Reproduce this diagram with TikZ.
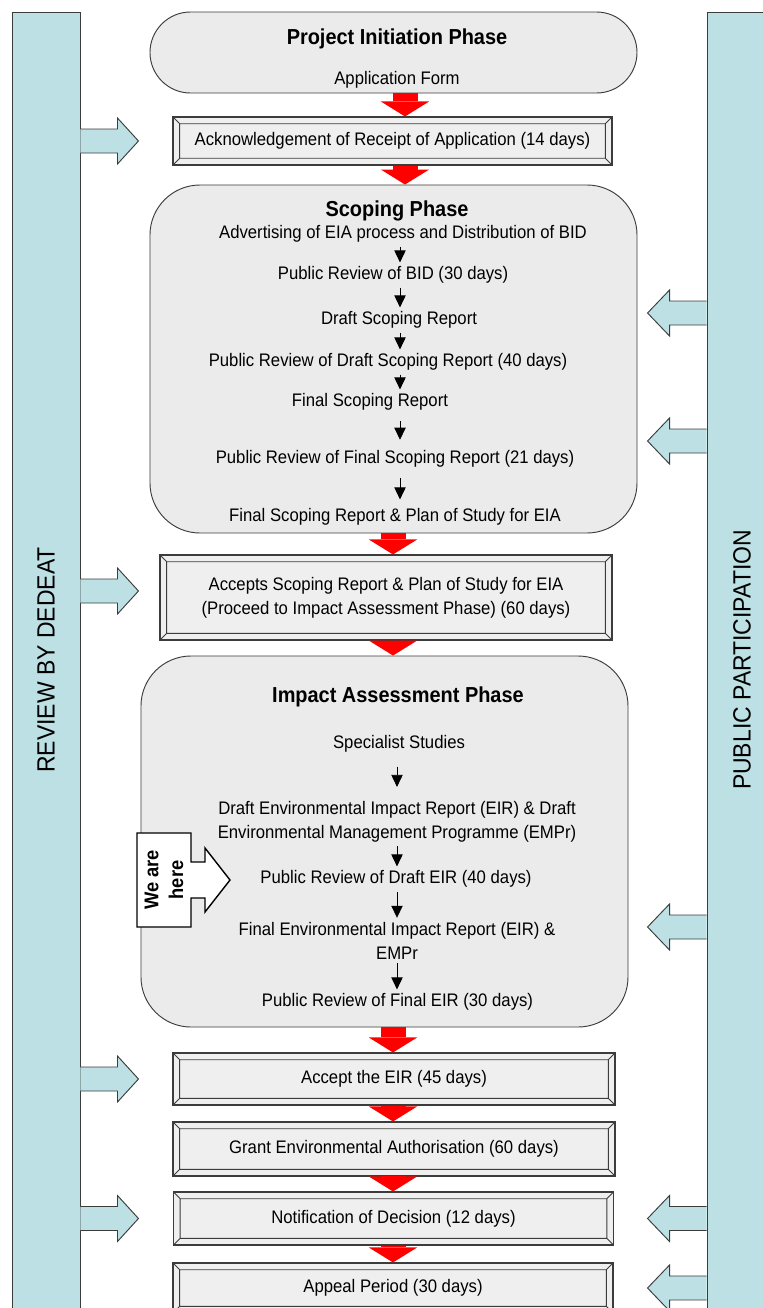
\documentclass[tikz,border=0pt]{standalone}
\usepackage{fontspec}
\setmainfont{Liberation Sans}[FakeStretch=0.92]
\usetikzlibrary{arrows.meta, positioning, calc}

\definecolor{barblue}{RGB}{188,224,227}
\definecolor{phasegray}{RGB}{235,235,235}
\definecolor{boxgray}{RGB}{239,239,239}
\definecolor{edgegray}{RGB}{60,60,60}

\newcommand{\stepfont}{\fontsize{15.5}{20.5}\selectfont}
\newcommand{\phasefont}{\bfseries\fontsize{18.5}{22}\selectfont}
\newcommand{\barfont}{\fontsize{21.3}{24}\selectfont}
\newcommand{\herefont}{\bfseries\fontsize{17}{21}\selectfont}

\newcommand{\feedright}[1]{\filldraw[sidearrow] (#1) ++(0,-12) -- ++(37,0) -- ++(0,-11) -- ++(21,23) -- ++(-21,23) -- ++(0,-11) -- ++(-37,0);}
\newcommand{\feedleft}[1]{\filldraw[sidearrow] (#1) ++(0,-12) -- ++(-37,0) -- ++(0,-11) -- ++(-22,23) -- ++(22,23) -- ++(0,-11) -- ++(37,0);}

\begin{document}
\begin{tikzpicture}[x=0.03cm, y=-0.03cm,
    phase/.style={draw=edgegray, fill=phasegray, line width=0.8pt},
    bevelbox/.style={draw=edgegray, fill=boxgray, line width=0.9pt, align=center, font=\stepfont,
      path picture={
        \draw[edgegray, line width=0.7pt]
          ([shift={(0.2cm,-0.2cm)}]path picture bounding box.north west) rectangle ([shift={(-0.2cm,0.2cm)}]path picture bounding box.south east)
          (path picture bounding box.north west) -- ++(0.2cm,-0.2cm)
          (path picture bounding box.north east) -- ++(-0.2cm,-0.2cm)
          (path picture bounding box.south west) -- ++(0.2cm,0.2cm)
          (path picture bounding box.south east) -- ++(-0.2cm,0.2cm);
      }},
    item/.style={align=center, font=\stepfont, yshift=-0.06cm},
    heading/.style={font=\phasefont, yshift=-0.06cm},
    sidebar/.style={draw=edgegray, fill=barblue, line width=0.8pt},
    sidelabel/.style={rotate=90, font=\barfont},
    redflow/.style={red, line width=0.75cm, -{Triangle[width=1.45cm, length=0.45cm, line width=0pt]}},
    flowstep/.style={black, line width=0.6pt, -{Triangle[width=0.34cm, length=0.36cm]}},
    sidearrow/.style={draw=edgegray, fill=barblue, line width=0.8pt, line join=miter}]

  \useasboundingbox (0,0) rectangle (763,1308);
  \clip (0,0) rectangle (763,1308);

  \node[sidebar, minimum width=2.04cm, minimum height=39.6cm] (dedeat) at (46,672) {};
  \node[sidebar, minimum width=2.04cm, minimum height=39.6cm] (publicpp) at (741,672) {};
  \node[sidelabel] (dedeatlabel) at (46,660) {REVIEW BY DEDEAT};
  \node[sidelabel] (pplabel) at (742,660) {PUBLIC PARTICIPATION};

  \node[phase, rounded corners=1.215cm, minimum width=14.61cm, minimum height=2.43cm] (init) at (393.5,52.5) {};
  \node[phase, rounded corners=1.5cm, minimum width=14.61cm, minimum height=10.44cm] (scoping) at (393.5,359) {};
  \node[phase, rounded corners=1.5cm, minimum width=14.61cm, minimum height=11.13cm] (impact) at (384.5,841.5) {};

  \node[bevelbox, minimum width=13.17cm, minimum height=1.44cm] (ack) at (392.5,141) {Acknowledgement of Receipt of Application (14 days)};
  \node[bevelbox, minimum width=13.56cm, minimum height=2.55cm] (accepts) at (386,597.5) {Accepts Scoping Report \& Plan of Study for EIA\\(Proceed to Impact Assessment Phase) (60 days)};
  \node[bevelbox, minimum width=13.26cm, minimum height=1.56cm] (accepteir) at (394,1079) {Accept the EIR (45 days)};
  \node[bevelbox, minimum width=13.26cm, minimum height=1.62cm] (grant) at (394,1149) {Grant Environmental Authorisation (60 days)};
  \node[bevelbox, minimum width=13.2cm, minimum height=1.59cm] (notif) at (393.5,1218.5) {Notification of Decision (12 days)};
  \node[bevelbox, minimum width=13.2cm, minimum height=1.5cm] (appeal) at (393,1288) {Appeal Period (30 days)};

  \node[heading] (inittitle) at (397,37) {Project Initiation Phase};
  \node[item] (form) at (397,78) {Application Form};

  \node[heading] (scopetitle) at (397,209) {Scoping Phase};
  \node[item] (s1) at (403,232) {Advertising of EIA process and Distribution of BID};
  \node[item] (s2) at (393,273) {Public Review of BID (30 days)};
  \node[item] (s3) at (399,318) {Draft Scoping Report};
  \node[item] (s4) at (388,360) {Public Review of Draft Scoping Report (40 days)};
  \node[item] (s5) at (370,400) {Final Scoping Report};
  \node[item] (s6) at (395,457) {Public Review of Final Scoping Report (21 days)};
  \node[item] (s7) at (395,515) {Final Scoping Report \& Plan of Study for EIA};

  \node[heading] (impacttitle) at (398,695) {Impact Assessment Phase};
  \node[item] (i1) at (399,742) {Specialist Studies};
  \node[item] (i2) at (397,819.5) {Draft Environmental Impact Report (EIR) \& Draft\\Environmental Management Programme (EMPr)};
  \node[item] (i3) at (396,877) {Public Review of Draft EIR (40 days)};
  \node[item] (i4) at (397,938.5) {Final Environmental Impact Report (EIR) \&\\EMPr};
  \node[item] (i5) at (397.5,1000) {Public Review of Final EIR (30 days)};

  \coordinate (topline) at (405,0);
  \coordinate (mainline) at (393,0);
  \coordinate (scopeline) at (400,0);
  \coordinate (impactline) at (397,0);

  \draw[redflow] (init.south -| topline) -- (ack.north -| topline);
  \draw[redflow] (ack.south -| topline) -- (scoping.north -| topline);
  \draw[redflow] (scoping.south -| mainline) -- (accepts.north -| mainline);
  \draw[redflow] (accepts.south -| mainline) -- (impact.north -| mainline);
  \draw[redflow] (impact.south -| mainline) -- (accepteir.north -| mainline);
  \draw[redflow] (accepteir.south -| mainline) -- (grant.north -| mainline);
  \draw[redflow] (grant.south -| mainline) -- (notif.north -| mainline);
  \draw[redflow] (notif.south -| mainline) -- (appeal.north -| mainline);

  \draw[flowstep] (s1.south -| scopeline) -- (s2.north -| scopeline);
  \draw[flowstep] (s2.south -| scopeline) -- (s3.north -| scopeline);
  \draw[flowstep] (s3.south -| scopeline) -- (s4.north -| scopeline);
  \draw[flowstep] (s4.south -| scopeline) -- (s5.north -| scopeline);
  \draw[flowstep, shorten <=0.2cm, shorten >=0.2cm] (s5.south -| scopeline) -- (s6.north -| scopeline);
  \draw[flowstep, shorten <=0.2cm, shorten >=0.15cm] (s6.south -| scopeline) -- (s7.north -| scopeline);

  \draw[flowstep, shorten <=0.3cm, shorten >=0.3cm] (i1.south -| impactline) -- (i2.north -| impactline);
  \draw[flowstep] (i2.south -| impactline) -- (i3.north -| impactline);
  \draw[flowstep] (i3.south -| impactline) -- (i4.north -| impactline);
  \draw[flowstep] (i4.south -| impactline) -- (i5.north -| impactline);

  \feedright{dedeat.east |- ack}
  \feedright{dedeat.east |- 0,591}
  \feedright{dedeat.east |- accepteir}
  \feedright{dedeat.east |- notif}
  \feedleft{publicpp.west |- 0,313}
  \feedleft{publicpp.west |- 0,441}
  \feedleft{publicpp.west |- 0,927}
  \feedleft{publicpp.west |- notif}
  \feedleft{publicpp.west |- appeal}

  \draw[fill=white, line width=1.2pt, line join=miter] (137,833) -- (191,833) -- (191,862) -- (205,862) -- (205,848) -- (230,880) -- (205,912) -- (205,898) -- (191,898) -- (191,927) -- (137,927) -- cycle;
  \node[rotate=90, align=center, font=\herefont] (here) at (164,880) {We are\\here};
\end{tikzpicture}
\end{document}
